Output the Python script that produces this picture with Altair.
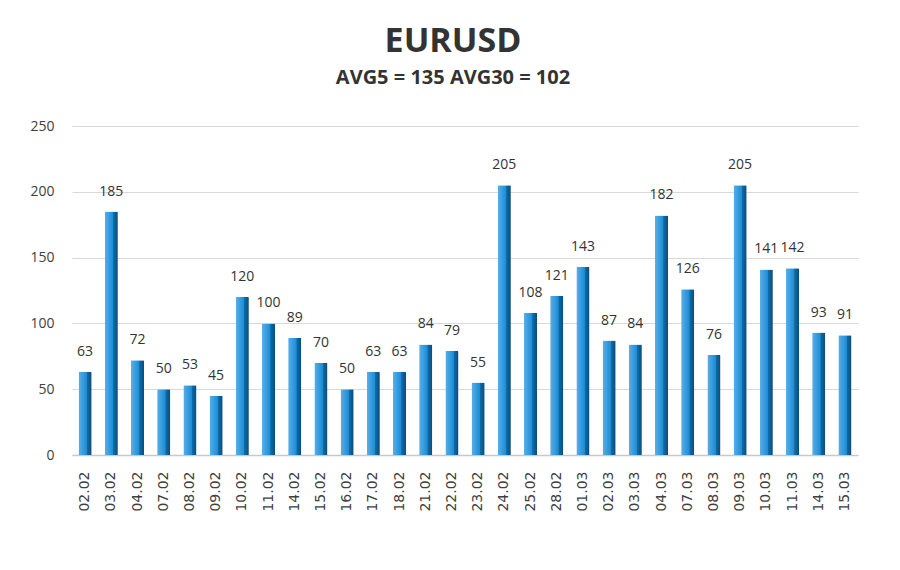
import altair as alt
import pandas as pd

dates = ["02.02", "03.02", "04.02", "07.02", "08.02", "09.02", "10.02", "11.02",
         "14.02", "15.02", "16.02", "17.02", "18.02", "21.02", "22.02", "23.02",
         "24.02", "25.02", "28.02", "01.03", "02.03", "03.03", "04.03", "07.03",
         "08.03", "09.03", "10.03", "11.03", "14.03", "15.03"]
values = [63, 185, 72, 50, 53, 45, 120, 100, 89, 70, 50, 63, 63, 84, 79, 55,
          205, 108, 121, 143, 87, 84, 182, 126, 76, 205, 141, 142, 93, 91]
y_ticks = [0, 50, 100, 150, 200, 250]

df = pd.DataFrame({"date": dates, "value": values})

grad = alt.Gradient(
    gradient="linear",
    stops=[
        alt.GradientStop(color="#5aafe8", offset=0),
        alt.GradientStop(color="#1c8dd6", offset=0.62),
        alt.GradientStop(color="#0f6ca9", offset=0.66),
        alt.GradientStop(color="#0b4c7a", offset=1),
    ],
    x1=0, x2=1, y1=0, y2=0,
)

x_enc = alt.X(
    "date:N", sort=dates, title=None,
    scale=alt.Scale(paddingInner=0.5, paddingOuter=0.25),
    axis=alt.Axis(labelAngle=-90, labelAlign="right", labelBaseline="middle",
                  labelPadding=16, labelFont="DejaVu Sans", labelFontSize=14,
                  labelColor="#404040", ticks=False, domain=True,
                  domainColor="#c8c8c8", domainWidth=1.5, grid=False),
)
y_enc = alt.Y(
    "value:Q", title=None,
    scale=alt.Scale(domain=[0, 250], nice=False),
    axis=alt.Axis(values=y_ticks, labelFont="Open Sans", labelFontSize=14,
                  labelColor="#404040", labelPadding=18, ticks=False,
                  domain=False, gridColor="#d9d9d9", gridWidth=1),
)

bars = alt.Chart(df).mark_bar(color=grad, cornerRadiusTopRight=1).encode(
    x=x_enc, y=y_enc
)
labels = alt.Chart(df).mark_text(
    baseline="bottom", dy=-13, font="Open Sans", fontSize=14, color="#333333"
).encode(x=alt.X("date:N", sort=dates), y="value:Q", text="value:Q")

chart = (bars + labels).properties(
    width=786,
    height=329,
    autosize=alt.AutoSizeParams(type="none"),
    padding={"left": 72, "top": 126, "right": 42, "bottom": 115},
    background="white",
    title=alt.TitleParams(
        text="EURUSD",
        subtitle="AVG5 = 135 AVG30 = 102",
        font="Open Sans", fontSize=34, fontWeight="bold", color="#333333",
        subtitleFont="Open Sans", subtitleFontSize=20, subtitleFontWeight="bold",
        subtitleColor="#333333", subtitlePadding=9,
        anchor="middle", offset=31, dx=-12,
    ),
).configure_view(stroke=None)

chart.save("out.html", embed_options={"renderer": "svg", "actions": False})
